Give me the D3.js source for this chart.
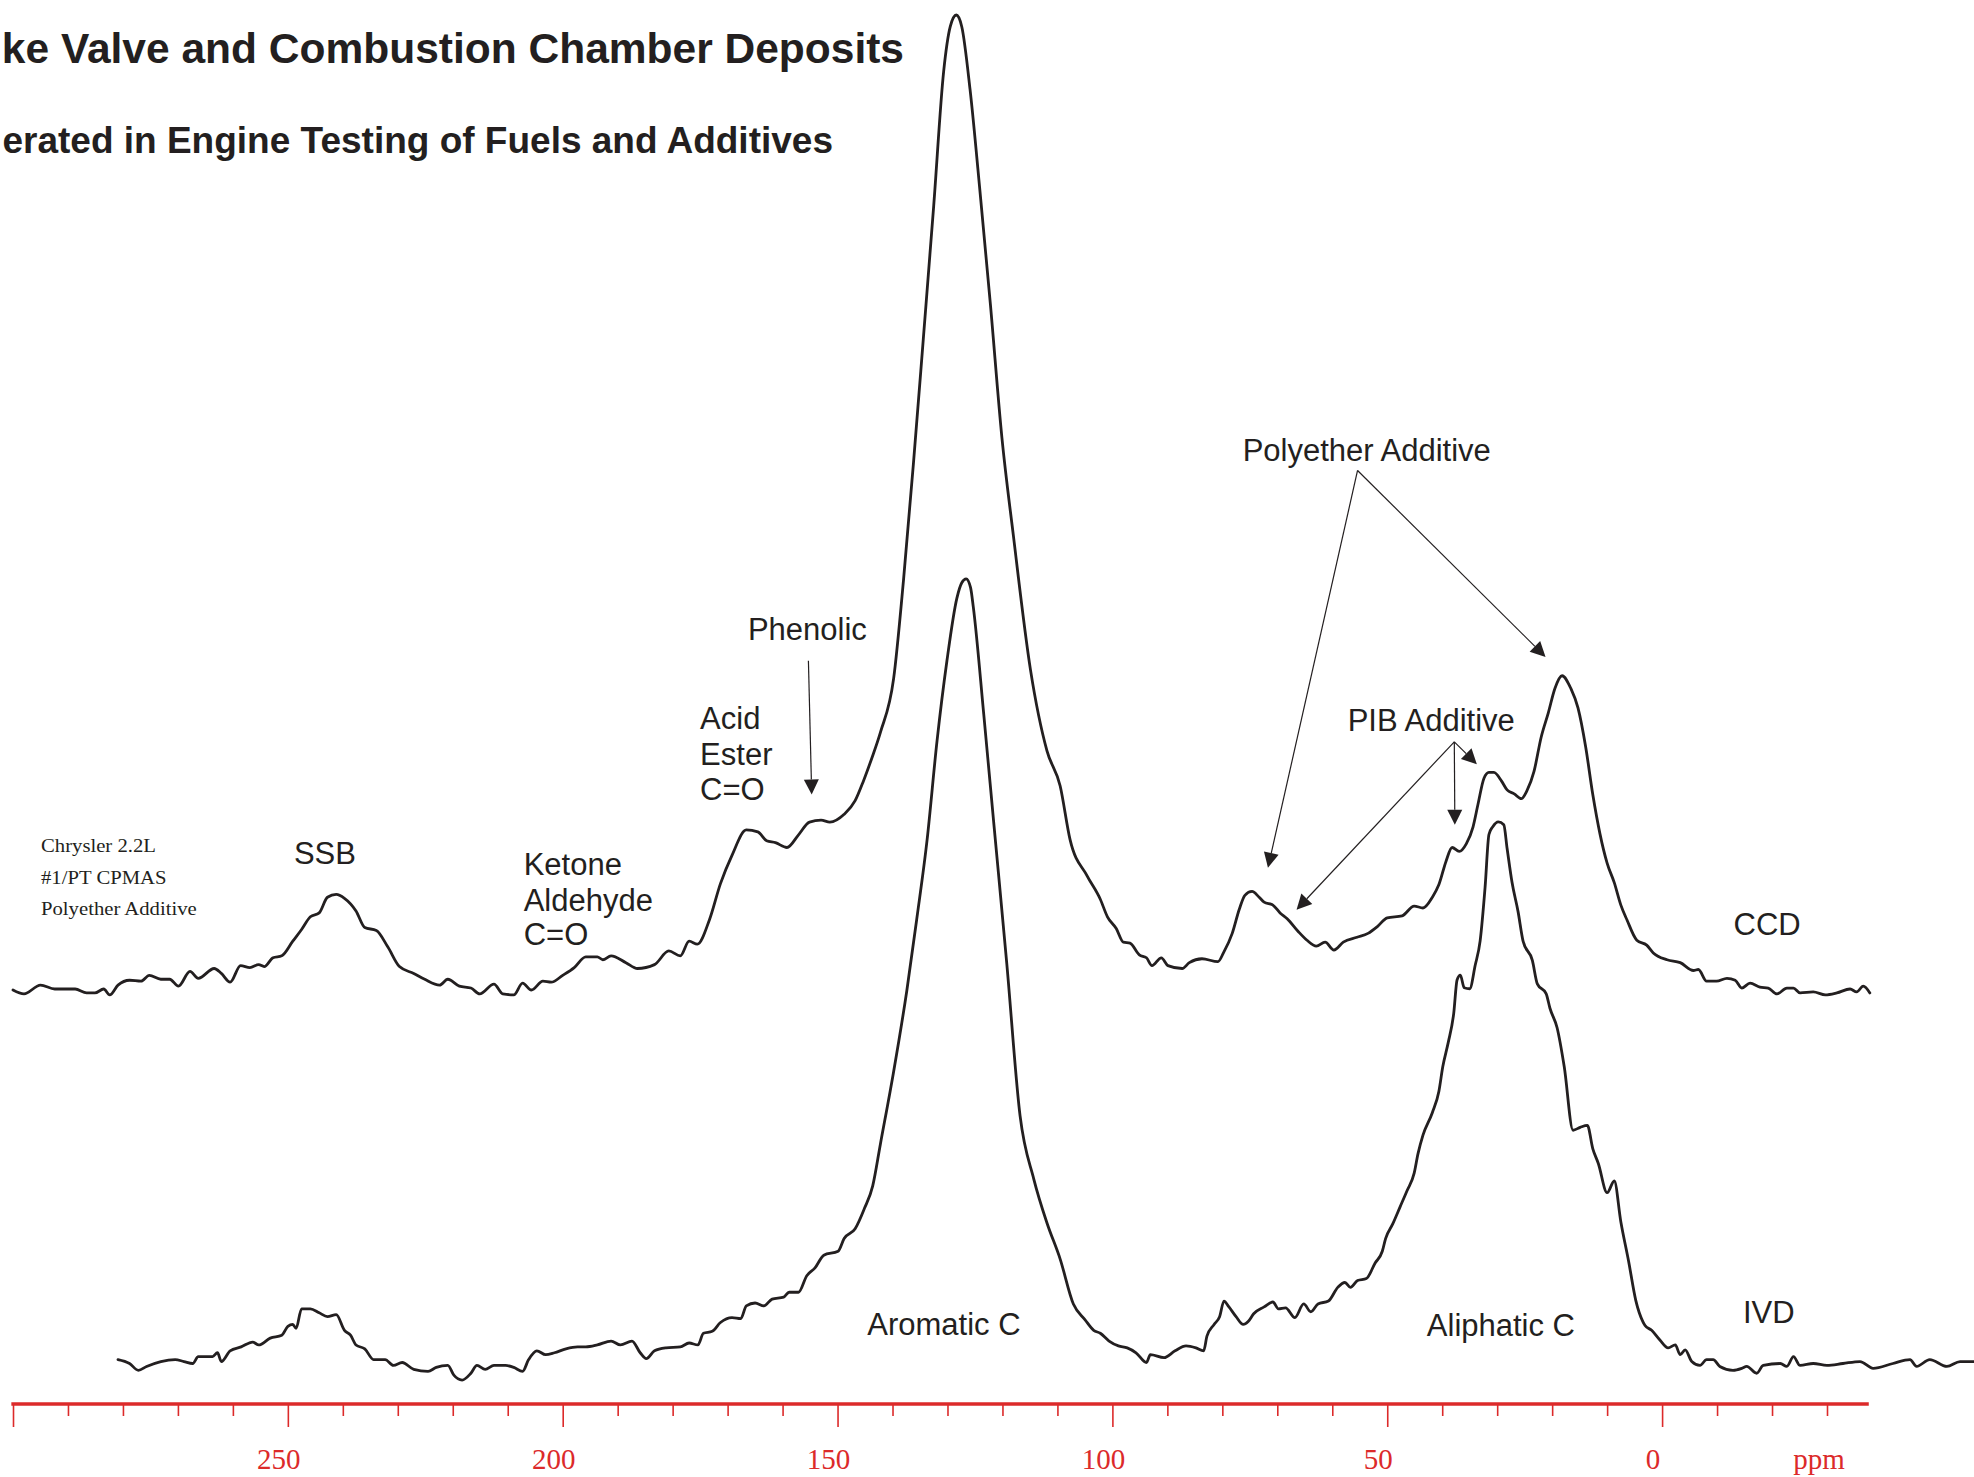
<!DOCTYPE html>
<html><head><meta charset="utf-8">
<script src="https://cdn.jsdelivr.net/npm/d3@7"></script>
<style>html,body{margin:0;padding:0;background:#fff;overflow:hidden}</style>
</head><body>
<svg id="c" width="1974" height="1477"></svg>
<script>
// ---- data: [chemical shift (ppm), intensity (% of CCD max)] ----
const ccdSpectrum = [[300,0.1],[298,-0.3],[295,0.6],[292.4,0.2],[288.7,0.2],[286.6,-0.2],[285.1,-0.2],[283.5,0.2],[282.4,-0.4],[280.9,0.6],[278.8,1.1],[276.7,1.0],[275.2,1.6],[273.1,1.2],[271.5,1.2],[269.9,0.5],[267.8,2.0],[266.3,1.3],[263.4,2.3],[262.1,1.8],[260.5,0.9],[258.6,2.6],[256.9,2.4],[255.3,2.7],[254.3,2.5],[252.7,3.4],[251.1,3.6],[249.1,5.1],[247.5,6.3],[245.9,7.6],[244.3,8.0],[242.8,9.6],[241.2,9.9],[239.7,9.5],[237.6,8.2],[236.0,6.5],[233.9,6.2],[231.8,4.5],[229.7,2.5],[227.1,1.8],[225.1,1.2],[222.4,0.6],[220.9,1.2],[218.8,0.5],[216.7,0.3],[215.1,-0.3],[212.5,0.7],[210.9,-0.3],[208.9,-0.4],[207.3,0.8],[205.7,0.1],[203.6,1.0],[202.1,0.9],[200.0,1.6],[197.9,2.4],[195.8,3.5],[193.7,3.5],[192.7,3.2],[191.2,3.6],[188.5,2.9],[186.4,2.3],[183.3,2.7],[180.7,4.1],[178.6,3.6],[177.0,5.1],[175.5,4.8],[173.3,7.3],[171.3,11.0],[169.2,13.9],[166.6,16.5],[164.5,16.3],[162.9,15.4],[161.3,15.2],[159.2,14.7],[157.1,16.0],[155.1,17.3],[153.0,17.5],[151.4,17.3],[148.8,18.1],[146.8,19.5],[145.3,21.5],[143.8,23.8],[142.2,26.5],[139.8,32.0],[138.0,42.1],[136.2,54.0],[134.4,66.8],[132.5,80.5],[130.7,94.2],[129.5,98.8],[128.4,100],[127.4,98.8],[125.9,92.4],[124.0,81.4],[122.2,70.4],[120.1,56.7],[118.0,46.6],[114.9,32.9],[111.9,24.6],[109.5,21.0],[107.7,15.5],[104.6,11.8],[102.2,9.4],[100.9,7.6],[99.3,6.4],[98.0,5.0],[96.8,4.9],[95.1,3.7],[93.8,3.4],[92.8,2.6],[91.1,3.4],[89.9,2.6],[87.3,2.3],[86.0,2.9],[83.7,3.3],[80.8,3.0],[79.8,3.9],[78.2,5.9],[76.9,8.4],[75.9,9.8],[74.6,10.2],[73.3,9.6],[72.4,9.1],[70.8,8.8],[69.5,8.0],[68.2,7.4],[66.2,6.1],[64.6,5.2],[62.9,4.6],[61.3,5.0],[59.7,4.2],[58.0,5.0],[55.5,5.5],[53.5,5.9],[51.8,6.6],[50.0,7.5],[47.3,7.7],[45.1,8.7],[43.5,8.5],[41.8,9.6],[40.6,10.9],[39.3,13.3],[38.2,14.7],[36.9,14.3],[35.6,15.1],[34.4,16.8],[33.5,19.1],[32.4,21.8],[31.5,22.4],[30.6,22.4],[29.2,21.5],[28.2,20.6],[26.9,20.2],[25.6,19.7],[24.6,20.5],[23.3,22.5],[22.0,26.0],[20.7,28.5],[19.5,31.0],[18.2,32.3],[16.6,31.0],[15.3,29.0],[13.9,25.0],[12.6,20.1],[11.3,16.1],[10.0,13.1],[8.7,11.1],[7.5,8.8],[6.4,7.3],[4.6,5.2],[2.8,4.7],[1.6,3.9],[-0.9,3.2],[-3.3,2.9],[-5.7,2.1],[-6.6,2.2],[-8.1,1.0],[-9.9,1.0],[-11.8,1.3],[-13.3,1.1],[-14.5,0.3],[-16.0,0.8],[-17.8,0.4],[-19.3,0.3],[-20.9,-0.3],[-22.7,0.3],[-23.9,0.3],[-25.1,-0.2],[-27.5,-0.1],[-29.7,-0.4],[-31.8,-0.2],[-34.2,0.2],[-35.4,-0.1],[-36.6,0.5],[-37.8,-0.2]];

const ivdSpectrum = [[280.9,0.4],[278.8,0.0],[277.2,-0.7],[275.7,-0.3],[273.1,0.2],[270.5,0.4],[268.9,0.2],[267.3,0.0],[266.3,0.7],[263.7,0.7],[262.8,1.1],[262.1,0.2],[260.5,1.3],[258.5,1.7],[256.4,2.2],[255.3,1.9],[253.2,2.6],[251.1,2.9],[250.0,3.8],[249.1,4.0],[248.5,3.6],[247.5,5.6],[245.9,5.6],[244.3,5.2],[242.8,4.8],[241.2,5.0],[239.7,3.4],[238.6,2.9],[237.6,1.9],[236.0,1.5],[234.4,0.4],[232.3,0.4],[230.8,-0.2],[229.2,0.1],[227.1,-0.6],[224.5,-0.8],[223.0,-0.4],[220.9,-0.2],[219.8,-1.2],[218.3,-1.7],[216.7,-1.0],[215.6,-0.2],[214.1,-0.6],[212.5,-0.2],[210.4,-0.2],[208.9,-0.4],[207.3,-0.8],[206.2,0.4],[204.7,1.3],[203.1,0.9],[201.5,1.1],[199.4,1.5],[197.3,1.7],[195.8,1.7],[193.7,1.9],[191.2,2.3],[189.5,1.9],[187.4,2.3],[185.9,1.1],[184.8,0.5],[183.3,1.3],[181.2,1.6],[178.6,1.7],[177.0,2.1],[175.4,1.9],[174.4,3.1],[172.8,3.3],[171.3,4.2],[169.2,4.7],[167.6,4.6],[166.6,5.9],[165.0,6.2],[163.4,5.9],[161.9,6.6],[159.8,6.8],[158.8,7.3],[157.1,7.3],[155.6,9.0],[154.1,9.8],[152.5,11.1],[149.9,11.5],[148.8,12.8],[146.8,13.8],[145.1,15.9],[143.6,18.2],[142.2,22.5],[139.8,29.9],[137.4,38.2],[135.6,45.5],[133.7,53.7],[131.9,63.8],[130.1,72.0],[128.3,78.4],[127.4,80.0],[126.6,80.4],[125.8,79.5],[125.3,77.5],[123.4,66.5],[121.6,55.5],[119.2,40.9],[116.8,25.4],[114.3,18.9],[111.9,14.4],[109.5,10.7],[107.1,6.1],[105.0,4.5],[103.4,3.4],[102.2,3.1],[100.6,2.3],[98.9,1.8],[97.3,1.6],[95.7,1.1],[93.8,0.1],[93.1,0.9],[90.6,0.6],[88.6,1.3],[86.6,1.8],[84.8,1.6],[83.4,1.3],[82.8,2.8],[81.5,4.0],[80.5,4.8],[79.7,6.4],[78.8,5.8],[77.5,4.8],[76.2,4.0],[75.3,4.3],[74.3,5.1],[72.4,5.8],[70.8,6.3],[69.8,5.6],[68.5,5.7],[66.8,4.7],[65.2,6.1],[63.9,5.3],[62.6,6.1],[60.7,6.4],[59.0,7.8],[57.7,8.3],[56.7,7.8],[55.4,8.5],[53.8,8.7],[52.2,10.3],[50.9,11.5],[50.3,12.8],[49.0,14.3],[47.7,16.0],[46.4,17.7],[45.1,19.5],[44.4,21.5],[43.5,23.4],[41.8,25.7],[40.6,27.9],[39.9,30.4],[38.9,32.9],[37.9,35.9],[37.3,39.3],[36.7,39.8],[36.0,38.5],[35.0,38.4],[34.0,40.8],[33.1,43.3],[32.2,48.8],[31.5,54.2],[30.8,55.0],[29.8,55.5],[28.8,55.2],[28.2,52.8],[27.3,49.3],[26.2,46.3],[25.3,43.3],[23.6,41.3],[22.7,38.9],[21.1,37.9],[20.4,36.4],[19.1,34.4],[17.8,30.4],[16.2,23.9],[14.9,24.2],[13.6,24.4],[12.6,22.0],[11.6,20.5],[10.0,17.5],[8.7,18.7],[7.5,14.5],[6.1,10.5],[4.8,6.5],[3.5,4.3],[3.1,3.9],[1.9,3.4],[0.4,2.4],[-1.1,1.6],[-2.4,1.9],[-3.3,0.9],[-4.2,1.4],[-5.4,0.2],[-6.9,-0.2],[-8.1,0.4],[-9.3,0.4],[-10.5,-0.3],[-12.9,-0.7],[-14.5,-0.5],[-15.4,-0.3],[-17.2,-1.0],[-18.4,-0.2],[-21.5,0.0],[-22.7,-0.3],[-23.9,0.7],[-25.1,-0.2],[-27.5,0.0],[-30.0,-0.2],[-32.9,0.0],[-36.0,0.2],[-38.4,-0.5],[-42.0,0.0],[-45.1,0.4],[-46.3,-0.3],[-48.7,0.4],[-51.8,-0.3],[-54.2,0.2],[-56.7,0.2]];

const seriesNames = ["CCD", "IVD"];
const stackOffsets = [38.17, 0];   // vertical stacking of the two traces (intensity units)

const majorTicks = [300, 250, 200, 150, 100, 50, 0];
const minorTicks = [290,280,270,260,240,230,220,210,190,180,170,160,140,130,120,110,90,80,70,60,40,30,20,10,-10,-20,-30];
const tickLabelValues = [250, 200, 150, 100, 50, 0];
const tickLabels = ["250", "200", "150", "100", "50", "0"];
const unitLabel = "ppm";

const titleLines = ["ke Valve and Combustion Chamber Deposits", "erated in Engine Testing of Fuels and Additives"];
const infoLines = ["Chrysler 2.2L", "#1/PT CPMAS", "Polyether Additive"];

// annotation labels: [text, ppm, intensity]
const peakLabels = [
  ["Polyether Additive", 76.3, 92.5],
  ["PIB Additive", 57.2, 64.8],
  ["Phenolic", 166.3, 74.1],
  ["Acid", 175.0, 65.0], ["Ester", 175.0, 61.3], ["C=O", 175.0, 57.7],
  ["Ketone", 207.1, 50.1], ["Aldehyde", 207.1, 46.4], ["C=O", 207.1, 42.9],
  ["SSB", 248.9, 51.2],
  ["CCD", -13.0, 43.9],
  ["IVD", -14.7, 4.2],
  ["Aromatic C", 144.6, 2.9],
  ["Aliphatic C", 42.8, 2.8]
];
// arrows: [from ppm, from intensity, to ppm, to intensity]
const arrows = [
  [155.3, 72.0, 154.7, 58.3],
  [55.4, 91.5, 71.7, 50.8],
  [55.4, 91.5, 21.2, 72.4],
  [37.8, 63.7, 66.5, 46.5],
  [37.8, 63.7, 37.7, 55.2],
  [37.8, 63.7, 33.7, 61.4]
];

// ---- drawing ----
const W = 1974, H = 1477;
const svg = d3.select("#c");
svg.append("rect").attr("width", W).attr("height", H).attr("fill", "#fff");

const x = d3.scaleLinear().domain([300, -30]).range([13, 1827]);
const y = d3.scaleLinear().domain([0, 138.17]).range([1363.5, 15]);
const ink = "#231f20";
const red = "#dc2a2a";
const axisY = 1404;

// titles
svg.append("text").attr("x", 904).attr("y", 63).attr("text-anchor", "end")
  .attr("font-family", "Liberation Sans, Arial, sans-serif").attr("font-weight", "bold")
  .attr("font-size", 42.5).attr("fill", ink).text(titleLines[0]);
svg.append("text").attr("x", 833).attr("y", 153).attr("text-anchor", "end")
  .attr("font-family", "Liberation Sans, Arial, sans-serif").attr("font-weight", "bold")
  .attr("font-size", 37).attr("fill", ink).text(titleLines[1]);

// spectra
const spectra = [ccdSpectrum, ivdSpectrum];
spectra.forEach((s, i) => {
  const off = stackOffsets[i];
  const line = d3.line().curve(d3.curveMonotoneX).x(d => x(d[0])).y(d => y(d[1] + off));
  svg.append("path").datum(s).attr("d", line)
    .attr("fill", "none").attr("stroke", ink).attr("stroke-width", 2.8)
    .attr("stroke-linejoin", "round").attr("stroke-linecap", "round")
    .attr("class", "series-" + seriesNames[i]);
});

// axis
const axisG = svg.append("g").attr("transform", `translate(0,${axisY})`);
const minorG = axisG.append("g").call(d3.axisBottom(x).tickValues(minorTicks).tickSize(12).tickFormat(""));
const majorG = axisG.append("g").call(d3.axisBottom(x).tickValues(majorTicks).tickSize(23).tickFormat(""));
[minorG, majorG].forEach(g => {
  g.select(".domain").remove();
  g.selectAll(".tick line").attr("stroke", red).attr("stroke-width", 1.6);
});
axisG.append("line").attr("x1", x(300.3)).attr("x2", x(-37.6)).attr("y1", 0).attr("y2", 0)
  .attr("stroke", red).attr("stroke-width", 3.6);
axisG.selectAll(".lbl").data(tickLabelValues).enter().append("text")
  .attr("x", d => x(d) - 9).attr("y", 65).attr("text-anchor", "middle")
  .attr("font-family", "Liberation Serif, Times New Roman, serif").attr("font-size", 29)
  .attr("fill", red).text((d, i) => tickLabels[i]);
axisG.append("text").attr("x", x(-30) - 8).attr("y", 65).attr("text-anchor", "middle")
  .attr("font-family", "Liberation Serif, Times New Roman, serif").attr("font-size", 29)
  .attr("fill", red).text(unitLabel);

// info text (small serif)
const infoX = x(294.9);
const infoV = [52.4, 49.1, 46.0];
infoLines.forEach((t, i) => {
  svg.append("text")
    .attr("transform", `translate(${infoX},${y(infoV[i])}) scale(1.15,1)`)
    .attr("font-family", "Liberation Serif, Times New Roman, serif").attr("font-size", 18)
    .attr("fill", ink).text(t);
});

// peak labels
svg.selectAll(".plabel").data(peakLabels).enter().append("text")
  .attr("x", d => x(d[1])).attr("y", d => y(d[2]))
  .attr("font-family", "Liberation Sans, Arial, sans-serif").attr("font-size", 31)
  .attr("fill", ink).text(d => d[0]);

// arrows
const headLen = 15, headHalf = 7.5;
arrows.forEach(a => {
  const x0 = x(a[0]), y0 = y(a[1]), x1 = x(a[2]), y1 = y(a[3]);
  const dx = x1 - x0, dy = y1 - y0, L = Math.hypot(dx, dy);
  const ux = dx / L, uy = dy / L, nx = -uy, ny = ux;
  const bx = x1 - ux * headLen, by = y1 - uy * headLen;
  svg.append("line").attr("x1", x0).attr("y1", y0).attr("x2", bx).attr("y2", by)
    .attr("stroke", ink).attr("stroke-width", 1.2);
  svg.append("path")
    .attr("d", `M${x1},${y1}L${bx + nx * headHalf},${by + ny * headHalf}L${bx - nx * headHalf},${by - ny * headHalf}Z`)
    .attr("fill", ink);
});
</script>
</body></html>
